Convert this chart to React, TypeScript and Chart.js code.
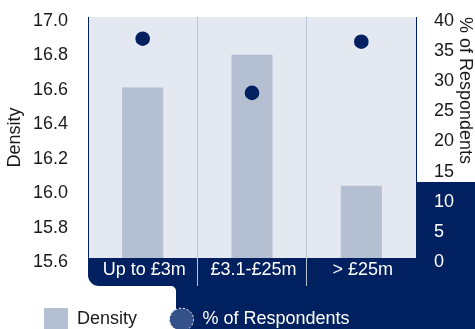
import React, { useEffect, useRef } from 'react';
import { Chart, registerables } from 'chart.js';

Chart.register(...registerables);

// ---- data ----
const categories = ['Up to £3m', '£3.1-£25m', '> £25m'];
const densityValues = [16.59, 16.78, 16.02];
const respondentsValues = [36.4, 27.4, 35.9];
const densityRange = [15.6, 17.0];
const densityStep = 0.2;
const respondentsRange = [0, 40];
const respondentsStep = 5;
const legendLabels = ['Density', '% of Respondents'];
const axisTitles = ['Density', '% of Respondents'];

// ---- styles ----
const FONT = "'Liberation Sans', Arial, sans-serif";
const NAVY = '#002060';
const BAR = '#b4bfd2';
const PLOT_BG = '#e4e8f0';
const GRID = '#b9c4d6';
const TEXT = '#1a1a1a';
const LEGEND_DOT = '#34518a';

const backdrop = {
  id: 'backdrop',
  beforeDraw(chart: any) {
    const { ctx, chartArea: a } = chart;
    const W = chart.width;
    const H = chart.height;
    const bandBottom = a.bottom + 28;
    const stepX = 176;
    const sideTop = 182;
    ctx.save();
    ctx.fillStyle = NAVY;
    ctx.beginPath();
    ctx.moveTo(a.left, a.bottom);
    ctx.lineTo(a.right, a.bottom);
    ctx.lineTo(a.right, sideTop);
    ctx.lineTo(W, sideTop);
    ctx.lineTo(W, H);
    ctx.lineTo(stepX, H);
    ctx.arcTo(stepX, bandBottom, stepX - 5, bandBottom, 5);
    ctx.arcTo(a.left, bandBottom, a.left, bandBottom - 11, 11);
    ctx.closePath();
    ctx.fill();
    ctx.fillStyle = PLOT_BG;
    ctx.fillRect(a.left, a.top, a.right - a.left, a.bottom - a.top);
    ctx.restore();
  },
};

const noPad = (s: any) => {
  s.paddingTop = 0;
  s.paddingBottom = 0;
  s.paddingLeft = 0;
  s.paddingRight = 0;
};

export default function App() {
  const ref = useRef<HTMLCanvasElement>(null);

  useEffect(() => {
    document.body.style.margin = '0';
    const canvas = ref.current;
    if (!canvas) return;

    const swatch = document.createElement('canvas');
    swatch.width = 24;
    swatch.height = 24;
    const sctx = swatch.getContext('2d');
    if (sctx) {
      sctx.fillStyle = BAR;
      sctx.fillRect(0, 0, 24, 24);
    }

    const font = { family: FONT, size: 18 };
    const fontTight = { family: FONT, size: 18, lineHeight: 1 };

    const chart = new Chart(canvas, {
      type: 'bar',
      data: {
        labels: categories,
        datasets: [
          {
            type: 'bar',
            label: legendLabels[0],
            data: densityValues,
            backgroundColor: BAR,
            borderWidth: 0,
            yAxisID: 'y',
            barPercentage: 0.375,
            categoryPercentage: 1,
            order: 2,
          } as any,
          {
            type: 'line',
            label: legendLabels[1],
            data: respondentsValues,
            yAxisID: 'y1',
            showLine: false,
            pointRadius: 7.3,
            pointBackgroundColor: NAVY,
            pointBorderColor: NAVY,
            pointBorderWidth: 0,
            order: 1,
          } as any,
        ],
      },
      options: {
        responsive: false,
        animation: false,
        layout: { padding: { left: 11.5, top: 17, right: 0, bottom: 0 } },
        plugins: {
          tooltip: { enabled: false },
          legend: {
            position: 'bottom',
            align: 'start',
            maxHeight: 51,
            labels: {
              usePointStyle: true,
              pointStyleWidth: 24,
              boxHeight: 16,
              padding: 32.5,
              font,
              generateLabels: () => [
                {
                  text: legendLabels[0],
                  pointStyle: swatch as any,
                  fillStyle: BAR,
                  strokeStyle: BAR,
                  lineWidth: 0,
                  fontColor: TEXT,
                  datasetIndex: 0,
                  hidden: false,
                } as any,
                {
                  text: legendLabels[1],
                  pointStyle: 'circle',
                  fillStyle: LEGEND_DOT,
                  strokeStyle: '#ffffff',
                  lineWidth: 1,
                  lineDash: [2, 2],
                  fontColor: '#ffffff',
                  datasetIndex: 1,
                  hidden: false,
                } as any,
              ],
            },
          },
        },
        scales: {
          x: {
            offset: true,
            grid: {
              display: true,
              offset: true,
              tickLength: 28,
              lineWidth: 1,
              color: (c: any) => (c.type === 'tick' && c.index > 0 ? GRID : 'rgba(0,0,0,0)'),
            },
            border: { display: false },
            ticks: {
              color: '#ffffff',
              font: fontTight,
              padding: -25,
              labelOffset: 1.5,
              maxRotation: 0,
              autoSkip: false,
            },
            afterFit: (s: any) => {
              s.height = 20;
              noPad(s);
            },
          },
          y: {
            position: 'left',
            min: densityRange[0],
            max: densityRange[1],
            grid: { display: false },
            border: { display: true, color: NAVY, width: 1 },
            ticks: {
              stepSize: densityStep,
              color: TEXT,
              font,
              padding: 12,
              labelOffset: 4,
              callback: (v: any) => Number(v).toFixed(1),
            },
            title: {
              display: true,
              text: axisTitles[0],
              color: TEXT,
              font: fontTight,
              padding: { top: -5, bottom: 0 },
            },
            afterFit: (s: any) => {
              s.width = 76.5;
              noPad(s);
            },
          },
          y1: {
            position: 'right',
            min: respondentsRange[0],
            max: respondentsRange[1],
            grid: { display: false },
            border: { display: true, color: NAVY, width: 1 },
            ticks: {
              stepSize: respondentsStep,
              color: (c: any) => (c.tick && c.tick.value <= 10 ? '#ffffff' : TEXT),
              font,
              padding: 10,
              labelOffset: 4,
            },
            title: {
              display: true,
              text: axisTitles[1],
              align: 'end',
              color: TEXT,
              font: fontTight,
              padding: { top: 1, bottom: 0 },
            },
            afterFit: (s: any) => {
              s.width = 59;
              noPad(s);
            },
          },
        },
      } as any,
      plugins: [backdrop],
    });

    return () => chart.destroy();
  }, []);

  return (
    <div style={{ width: 475, height: 329 }}>
      <canvas ref={ref} width={475} height={329} style={{ display: 'block' }} />
    </div>
  );
}
